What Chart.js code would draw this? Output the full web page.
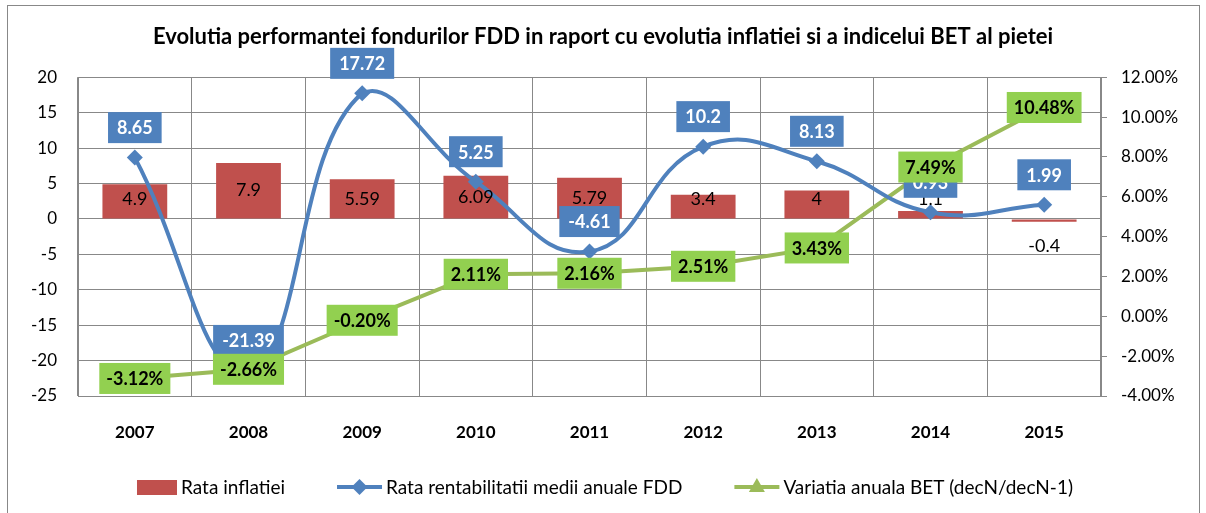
<!DOCTYPE html>
<html>
<head>
<meta charset="utf-8">
<script src="https://cdn.jsdelivr.net/npm/chart.js@4"></script>
<style>
    html, body { margin: 0; padding: 0; background: #fff; }
    #wrap { position: relative; width: 1206px; height: 513px; overflow: hidden; }
    #frame { position: absolute; left: 7px; top: 5px; width: 1193px; height: 540px; border: 1px solid #888; box-sizing: border-box; }
    canvas { position: absolute; left: 0; top: 0; }
</style>
</head>
<body>
<div id="wrap">
    <div id="frame"></div>
    <canvas id="chart" width="1206" height="513"></canvas>
</div>
<script>
        // Data
        const years = ['2007', '2008', '2009', '2010', '2011', '2012', '2013', '2014', '2015'];
        const inflation = [4.9, 7.9, 5.59, 6.09, 5.79, 3.4, 4, 1.1, -0.4];
        const fddReturn = [8.65, -21.39, 17.72, 5.25, -4.61, 10.2, 8.13, 0.93, 1.99];
        const betChange = [-3.12, -2.66, -0.20, 2.11, 2.16, 2.51, 3.43, 7.49, 10.48];

        const leftTicks = [20, 15, 10, 5, 0, -5, -10, -15, -20, -25];
        const rightTicks = [12, 10, 8, 6, 4, 2, 0, -2, -4];

        const seriesNames = ['Rata inflatiei', 'Rata rentabilitatii medii anuale FDD', 'Variatia anuala BET (decN/decN-1)'];

        const RED = '#C0504D';
        const BLUE = '#4F81BD';
        const GREEN = '#9BBB59';
        const GREEN_LABEL = '#92D050';
        const GRID = '#888888';
        const FONT = 'Lato, "Open Sans", sans-serif';

        // Draws the value boxes and the legend the way the spreadsheet did
        const labelPlugin = {
            id: 'valueLabels',
            afterDatasetsDraw(chart) {
                const ctx = chart.ctx;
                const zero = chart.scales.y.getPixelForValue(0);
                ctx.save();
                ctx.textAlign = 'center';
                ctx.textBaseline = 'middle';

                // bar labels
                ctx.font = '18px ' + FONT;
                ctx.fillStyle = '#000';
                chart.getDatasetMeta(0).data.forEach((bar, i) => {
                    const v = inflation[i];
                    const y = v >= 0 ? Math.min((bar.y + bar.base) / 2, zero - 20) : zero + 27;
                    ctx.fillText(String(v), bar.x, y);
                });

                // FDD labels, above the points
                ctx.font = 'bold 18px ' + FONT;
                chart.getDatasetMeta(1).data.forEach((pt, i) => {
                    const txt = String(fddReturn[i]);
                    const w = ctx.measureText(txt).width + 18;
                    const cy = pt.y - 30;
                    ctx.fillStyle = BLUE;
                    ctx.fillRect(pt.x - w / 2, cy - 15.5, w, 31);
                    ctx.fillStyle = '#fff';
                    ctx.fillText(txt, pt.x, cy + 1);
                });

                // BET labels, centred on the points
                chart.getDatasetMeta(2).data.forEach((pt, i) => {
                    const txt = betChange[i].toFixed(2) + '%';
                    const w = ctx.measureText(txt).width + 14;
                    ctx.fillStyle = GREEN_LABEL;
                    ctx.fillRect(pt.x - w / 2, pt.y - 15.5, w, 31);
                    ctx.fillStyle = '#000';
                    ctx.fillText(txt, pt.x, pt.y + 1);
                });
                ctx.restore();
            },
            afterDraw(chart) {
                const ctx = chart.ctx;
                const y = 487;
                const gap = 52;
                ctx.save();
                ctx.font = '19px ' + FONT;
                ctx.textBaseline = 'middle';
                const symW = [40, 45, 45];
                const widths = seriesNames.map((n, i) => symW[i] + 4 + ctx.measureText(n).width);
                const total = widths.reduce((a, b) => a + b, 0) + gap * 2;
                let x = (chart.width - total) / 2 + 2;
                seriesNames.forEach((name, i) => {
                    if (i === 0) {
                        ctx.fillStyle = RED;
                        ctx.fillRect(x, y - 7, 40, 15);
                    } else {
                        ctx.strokeStyle = i === 1 ? BLUE : GREEN;
                        ctx.fillStyle = ctx.strokeStyle;
                        ctx.lineWidth = 4;
                        ctx.beginPath();
                        ctx.moveTo(x, y);
                        ctx.lineTo(x + 45, y);
                        ctx.stroke();
                        const cx = x + 22.5;
                        ctx.beginPath();
                        if (i === 1) {
                            ctx.moveTo(cx, y - 8); ctx.lineTo(cx + 8, y); ctx.lineTo(cx, y + 8); ctx.lineTo(cx - 8, y);
                        } else {
                            ctx.moveTo(cx, y - 9); ctx.lineTo(cx + 8, y + 5); ctx.lineTo(cx - 8, y + 5);
                        }
                        ctx.closePath();
                        ctx.fill();
                    }
                    ctx.fillStyle = '#000';
                    ctx.fillText(name, x + symW[i] + 4, y + 1);
                    x += widths[i] + gap;
                });
                ctx.restore();
            }
        };

        const ctx = document.getElementById('chart').getContext('2d');
        const myChart = new Chart(ctx, {
            type: 'bar',
            data: {
                labels: years,
                datasets: [
                    {
                        label: seriesNames[0], data: inflation, backgroundColor: RED,
                        barPercentage: 0.57, categoryPercentage: 1, yAxisID: 'y', order: 3
                    },
                    {
                        type: 'line', label: seriesNames[1], data: fddReturn, yAxisID: 'y',
                        borderColor: BLUE, backgroundColor: BLUE, borderWidth: 4, tension: 0.45,
                        pointStyle: 'rectRot', pointRadius: 8, pointBorderWidth: 0, clip: false, order: 1
                    },
                    {
                        type: 'line', label: seriesNames[2], data: betChange, yAxisID: 'y2',
                        borderColor: GREEN, backgroundColor: GREEN, borderWidth: 4, tension: 0,
                        pointStyle: 'triangle', pointRadius: 6, pointBorderWidth: 0, clip: false, order: 2
                    }
                ]
            },
            options: {
                responsive: false,
                animation: false,
                layout: { padding: 0 },
                plugins: {
                    legend: { display: false },
                    tooltip: { enabled: false },
                    title: {
                        display: true,
                        text: 'Evolutia performantei fondurilor FDD in raport cu evolutia inflatiei si a indicelui BET al pietei',
                        color: '#000',
                        font: { family: FONT, size: 22, weight: 'bold', lineHeight: 1.1 },
                        padding: { top: 25, bottom: 28 }
                    }
                },
                scales: {
                    x: {
                        grid: { color: GRID, drawTicks: false, offset: true },
                        border: { color: GRID },
                        ticks: { color: '#000', padding: 26, font: { family: FONT, size: 17, weight: 'bold' } },
                        afterFit: (s) => { s.height = 117; }
                    },
                    y: {
                        position: 'left',
                        min: -25, max: 20,
                        afterBuildTicks: (s) => { s.ticks = leftTicks.map(v => ({ value: v })); },
                        grid: { color: GRID, drawTicks: false },
                        border: { color: GRID },
                        ticks: { color: '#000', padding: 21, font: { family: FONT, size: 17 } },
                        afterFit: (s) => { s.width = 78; }
                    },
                    y2: {
                        position: 'right',
                        min: -4, max: 12,
                        afterBuildTicks: (s) => { s.ticks = rightTicks.map(v => ({ value: v })); },
                        grid: { drawOnChartArea: false, color: GRID, tickLength: 6 },
                        border: { color: GRID },
                        ticks: { color: '#000', padding: 14, font: { family: FONT, size: 17 }, callback: (v) => v.toFixed(2) + '%' },
                        afterFit: (s) => { s.width = 105; }
                    }
                }
            },
            plugins: [labelPlugin]
        });
</script>
</body>
</html>
